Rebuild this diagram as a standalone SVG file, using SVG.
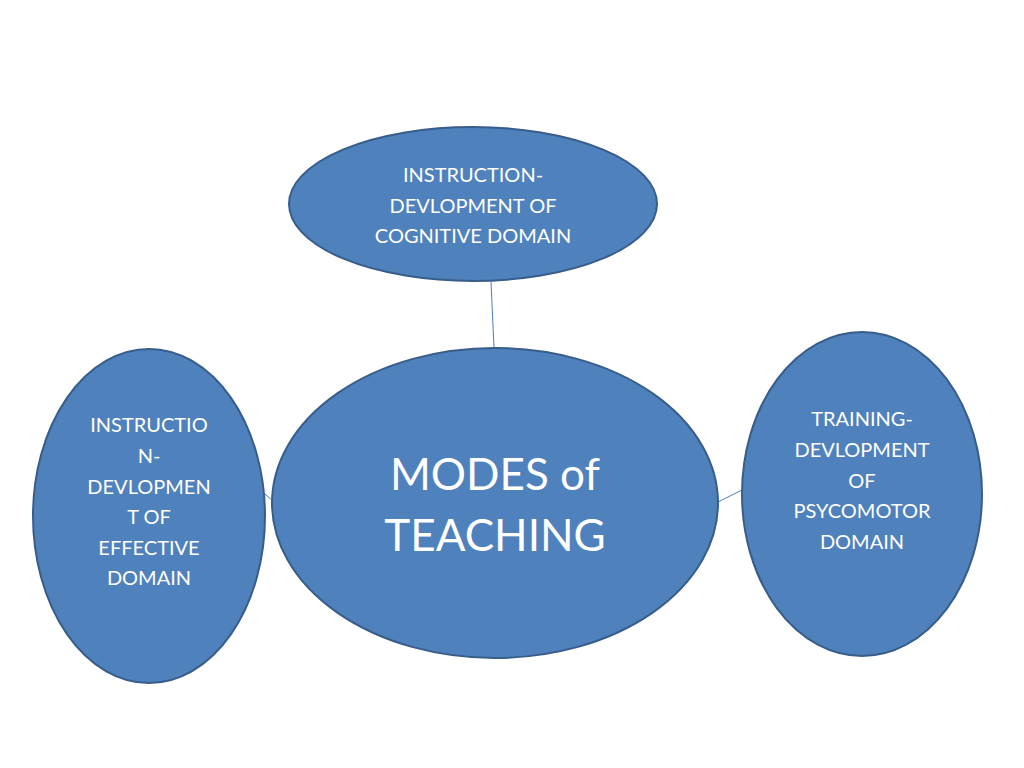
<svg xmlns="http://www.w3.org/2000/svg" width="1024" height="768" viewBox="0 0 1024 768">
<style>
.n{fill:#4f81bd;stroke:#385d8a;stroke-width:2}
.t{fill:#fff;font-family:Lato,"Open Sans",sans-serif;text-anchor:middle}
.s{font-size:20px}
.c{stroke:#4a7ebb;stroke-width:1;fill:none}
</style>
<rect width="1024" height="768" fill="#fff"/>
<g id="connectors">
<line class="c" x1="491" y1="282" x2="494" y2="348"/>
<line class="c" x1="265" y1="494" x2="274" y2="502"/>
<line class="c" x1="718" y1="502" x2="742" y2="490"/>
</g>
<g id="top">
<ellipse class="n" cx="473" cy="204" rx="184" ry="77"/>
<text class="t s" x="473" y="182">INSTRUCTION-</text>
<text class="t s" x="473" y="213">DEVLOPMENT OF</text>
<text class="t s" x="473" y="243">COGNITIVE DOMAIN</text>
</g>
<g id="center">
<ellipse class="n" cx="495" cy="503" rx="223" ry="155"/>
<text class="t" x="495" y="490" font-size="44">MODES  of</text>
<text class="t" x="495" y="551" font-size="44">TEACHING</text>
</g>
<g id="left">
<ellipse class="n" cx="149" cy="516" rx="116" ry="167"/>
<text class="t s" x="149" y="432">INSTRUCTIO</text>
<text class="t s" x="149" y="463">N-</text>
<text class="t s" x="149" y="494">DEVLOPMEN</text>
<text class="t s" x="149" y="524">T OF</text>
<text class="t s" x="149" y="555">EFFECTIVE</text>
<text class="t s" x="149" y="585">DOMAIN</text>
</g>
<g id="right">
<ellipse class="n" cx="862" cy="494" rx="120" ry="162"/>
<text class="t s" x="862" y="426">TRAINING-</text>
<text class="t s" x="862" y="457">DEVLOPMENT</text>
<text class="t s" x="862" y="488">OF</text>
<text class="t s" x="862" y="518">PSYCOMOTOR</text>
<text class="t s" x="862" y="549">DOMAIN</text>
</g>
</svg>
